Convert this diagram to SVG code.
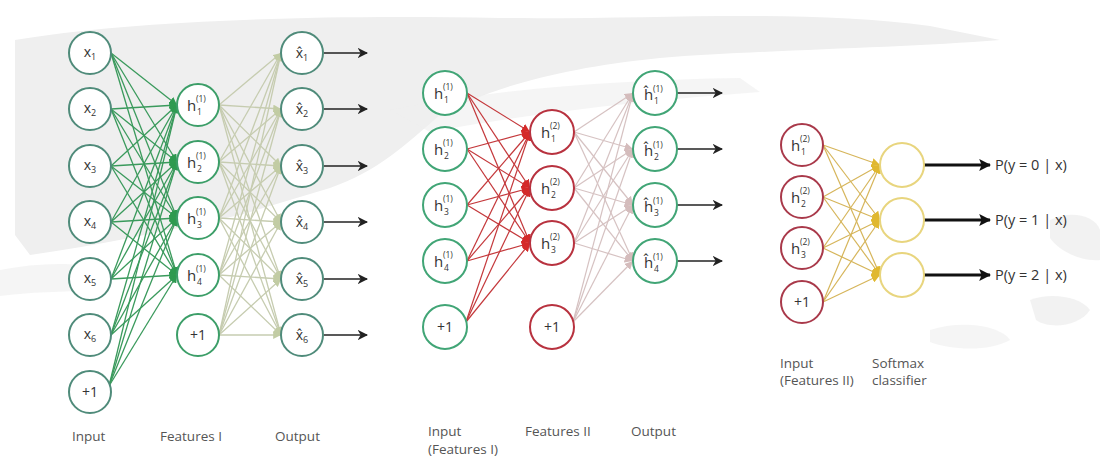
<svg xmlns="http://www.w3.org/2000/svg" width="1103" height="472" viewBox="0 0 1103 472">
<defs>
<style>
.bg{fill:#efefef;stroke:none}
.n{fill:#fff;stroke-width:2}
.gi{stroke:#4f8b7a}
.gh{stroke:#3c9e68}
.gm{stroke:#41a576}
.rh{stroke:#b8323f}
.ri{stroke:#a9394a}
.ys{stroke:#e8d57e}
.nl{font-family:"Open Sans","DejaVu Sans",sans-serif;font-size:14px;fill:#333;text-anchor:middle}
.ns{font-family:"Open Sans","Noto Sans",sans-serif;font-size:15px;fill:#333}
.sm{font-family:"Open Sans","Noto Sans",sans-serif;font-size:8.5px;fill:#333}
.cap{font-family:"Open Sans","Noto Sans",sans-serif;font-size:13.5px;fill:#555}
.pt{font-family:"Open Sans","Noto Sans",sans-serif;font-size:14.5px;fill:#333}
.c1 line{stroke:#3a9a5c;stroke-width:1.3;marker-end:url(#mg)}
.c2 line{stroke:#c6ccb0;stroke-width:1.3;marker-end:url(#mlg)}
.c3 line{stroke:#c4383b;stroke-width:1.2;marker-end:url(#mr)}
.c4 line{stroke:#d6c2c2;stroke-width:1.2;marker-end:url(#mp)}
.c5 line{stroke:#d6b55a;stroke-width:1.2;marker-end:url(#my)}
.oa line{stroke:#222;stroke-width:1.5;marker-end:url(#mk)}
.ob line{stroke:#111;stroke-width:3;marker-end:url(#mkb)}
</style>
<marker id="mg" viewBox="0 0 10 10" refX="10" refY="5" markerWidth="6" markerHeight="6" orient="auto"><path d="M0,0 L10,5 L0,10 z" fill="#2e9a50"/></marker>
<marker id="mlg" viewBox="0 0 10 10" refX="10" refY="5" markerWidth="6" markerHeight="6" orient="auto"><path d="M0,0 L10,5 L0,10 z" fill="#c2cca4"/></marker>
<marker id="mr" viewBox="0 0 10 10" refX="10" refY="5" markerWidth="7" markerHeight="7" orient="auto"><path d="M0,0 L10,5 L0,10 z" fill="#d42a2a"/></marker>
<marker id="mp" viewBox="0 0 10 10" refX="10" refY="5" markerWidth="7" markerHeight="7" orient="auto"><path d="M0,0 L10,5 L0,10 z" fill="#d4bcbc"/></marker>
<marker id="my" viewBox="0 0 10 10" refX="10" refY="5" markerWidth="7" markerHeight="7" orient="auto"><path d="M0,0 L10,5 L0,10 z" fill="#e0b830"/></marker>
<marker id="mk" viewBox="0 0 10 10" refX="9" refY="5" markerWidth="7" markerHeight="7" orient="auto"><path d="M0,0 L10,5 L0,10 L3,5 z" fill="#222"/></marker>
<marker id="mkb" viewBox="0 0 10 10" refX="9" refY="5" markerWidth="4" markerHeight="4" orient="auto"><path d="M0,0 L10,5 L0,10 L2,5 z" fill="#111"/></marker>
</defs>
<rect width="1103" height="472" fill="#fff"/>
<g id="background">
<path class="bg" d="M15,40 C120,22 300,14 500,18 C650,20 800,8 930,26 L1000,40 C900,48 760,50 660,58 C560,68 490,88 440,115 C405,145 380,170 330,188 L240,215 C170,230 100,245 30,255 L15,235 Z"/>
<path class="bg" d="M390,110 C500,88 620,80 740,78 L760,92 C650,100 540,112 430,132 Z" opacity="0.6"/>
<path class="bg" d="M0,270 C40,262 80,262 110,270 L100,290 C60,292 30,292 0,296 Z" opacity="0.6"/>
<path class="bg" d="M1050,220 C1070,210 1095,215 1100,230 L1100,260 C1080,262 1058,250 1050,238 Z" opacity="0.8"/>
<path class="bg" d="M1030,300 C1050,292 1080,296 1090,310 C1080,326 1050,330 1036,320 Z" opacity="0.8"/>
<path class="bg" d="M930,330 C960,320 1000,325 1010,340 C990,352 950,350 930,342 Z" opacity="0.6"/>
</g>
<g id="connectors">
<g class="c1">
<line x1="111" y1="53" x2="177" y2="105"/><line x1="111" y1="53" x2="177" y2="162"/><line x1="111" y1="53" x2="177" y2="218"/><line x1="111" y1="53" x2="177" y2="275"/>
<line x1="111" y1="109" x2="177" y2="105"/><line x1="111" y1="109" x2="177" y2="162"/><line x1="111" y1="109" x2="177" y2="218"/><line x1="111" y1="109" x2="177" y2="275"/>
<line x1="111" y1="166" x2="177" y2="105"/><line x1="111" y1="166" x2="177" y2="162"/><line x1="111" y1="166" x2="177" y2="218"/><line x1="111" y1="166" x2="177" y2="275"/>
<line x1="111" y1="222" x2="177" y2="105"/><line x1="111" y1="222" x2="177" y2="162"/><line x1="111" y1="222" x2="177" y2="218"/><line x1="111" y1="222" x2="177" y2="275"/>
<line x1="111" y1="279" x2="177" y2="105"/><line x1="111" y1="279" x2="177" y2="162"/><line x1="111" y1="279" x2="177" y2="218"/><line x1="111" y1="279" x2="177" y2="275"/>
<line x1="111" y1="335" x2="177" y2="105"/><line x1="111" y1="335" x2="177" y2="162"/><line x1="111" y1="335" x2="177" y2="218"/><line x1="111" y1="335" x2="177" y2="275"/>
<line x1="109" y1="386" x2="177" y2="105"/><line x1="109" y1="386" x2="177" y2="162"/><line x1="109" y1="386" x2="177" y2="218"/><line x1="109" y1="386" x2="177" y2="275"/>
</g>
<g class="c2">
<line x1="219" y1="105" x2="281" y2="53"/><line x1="219" y1="105" x2="281" y2="109"/><line x1="219" y1="105" x2="281" y2="166"/><line x1="219" y1="105" x2="281" y2="222"/><line x1="219" y1="105" x2="281" y2="279"/><line x1="219" y1="105" x2="281" y2="335"/>
<line x1="219" y1="162" x2="281" y2="53"/><line x1="219" y1="162" x2="281" y2="109"/><line x1="219" y1="162" x2="281" y2="166"/><line x1="219" y1="162" x2="281" y2="222"/><line x1="219" y1="162" x2="281" y2="279"/><line x1="219" y1="162" x2="281" y2="335"/>
<line x1="219" y1="218" x2="281" y2="53"/><line x1="219" y1="218" x2="281" y2="109"/><line x1="219" y1="218" x2="281" y2="166"/><line x1="219" y1="218" x2="281" y2="222"/><line x1="219" y1="218" x2="281" y2="279"/><line x1="219" y1="218" x2="281" y2="335"/>
<line x1="219" y1="275" x2="281" y2="53"/><line x1="219" y1="275" x2="281" y2="109"/><line x1="219" y1="275" x2="281" y2="166"/><line x1="219" y1="275" x2="281" y2="222"/><line x1="219" y1="275" x2="281" y2="279"/><line x1="219" y1="275" x2="281" y2="335"/>
<line x1="219" y1="335" x2="281" y2="53"/><line x1="219" y1="335" x2="281" y2="109"/><line x1="219" y1="335" x2="281" y2="166"/><line x1="219" y1="335" x2="281" y2="222"/><line x1="219" y1="335" x2="281" y2="279"/><line x1="219" y1="335" x2="281" y2="335"/>
</g>
<g class="c3">
<line x1="467" y1="93" x2="530" y2="132"/><line x1="467" y1="93" x2="530" y2="188"/><line x1="467" y1="93" x2="530" y2="243"/>
<line x1="467" y1="149" x2="530" y2="132"/><line x1="467" y1="149" x2="530" y2="188"/><line x1="467" y1="149" x2="530" y2="243"/>
<line x1="467" y1="205" x2="530" y2="132"/><line x1="467" y1="205" x2="530" y2="188"/><line x1="467" y1="205" x2="530" y2="243"/>
<line x1="467" y1="261" x2="530" y2="132"/><line x1="467" y1="261" x2="530" y2="188"/><line x1="467" y1="261" x2="530" y2="243"/>
<line x1="466" y1="322" x2="530" y2="132"/><line x1="466" y1="322" x2="530" y2="188"/><line x1="466" y1="322" x2="530" y2="243"/>
</g>
<g class="c4">
<line x1="574" y1="132" x2="633" y2="93"/><line x1="574" y1="132" x2="633" y2="149"/><line x1="574" y1="132" x2="633" y2="205"/><line x1="574" y1="132" x2="633" y2="261"/>
<line x1="574" y1="188" x2="633" y2="93"/><line x1="574" y1="188" x2="633" y2="149"/><line x1="574" y1="188" x2="633" y2="205"/><line x1="574" y1="188" x2="633" y2="261"/>
<line x1="574" y1="243" x2="633" y2="93"/><line x1="574" y1="243" x2="633" y2="149"/><line x1="574" y1="243" x2="633" y2="205"/><line x1="574" y1="243" x2="633" y2="261"/>
<line x1="573" y1="322" x2="633" y2="93"/><line x1="573" y1="322" x2="633" y2="149"/><line x1="573" y1="322" x2="633" y2="205"/><line x1="573" y1="322" x2="633" y2="261"/>
</g>
<g class="c5">
<line x1="823" y1="145" x2="880" y2="165"/><line x1="823" y1="145" x2="880" y2="220"/><line x1="823" y1="145" x2="880" y2="275"/>
<line x1="823" y1="197" x2="880" y2="165"/><line x1="823" y1="197" x2="880" y2="220"/><line x1="823" y1="197" x2="880" y2="275"/>
<line x1="823" y1="248" x2="880" y2="165"/><line x1="823" y1="248" x2="880" y2="220"/><line x1="823" y1="248" x2="880" y2="275"/>
<line x1="823" y1="302" x2="880" y2="165"/><line x1="823" y1="302" x2="880" y2="220"/><line x1="823" y1="302" x2="880" y2="275"/>
</g>
<g class="oa">
<line x1="324" y1="53" x2="367" y2="53"/><line x1="324" y1="109" x2="367" y2="109"/><line x1="324" y1="166" x2="367" y2="166"/><line x1="324" y1="222" x2="367" y2="222"/><line x1="324" y1="279" x2="367" y2="279"/><line x1="324" y1="335" x2="367" y2="335"/>
<line x1="677" y1="93" x2="722" y2="93"/><line x1="677" y1="149" x2="722" y2="149"/><line x1="677" y1="205" x2="722" y2="205"/><line x1="677" y1="261" x2="722" y2="261"/>
</g>
<g class="ob">
<line x1="924" y1="165" x2="990" y2="165"/><line x1="924" y1="220" x2="990" y2="220"/><line x1="924" y1="275" x2="990" y2="275"/>
</g>
</g>
<g id="in-x1"><circle class="n gi" cx="90" cy="53" r="21"/><text class="nl" x="90" y="57">x<tspan font-size="9" dy="3">1</tspan></text></g>
<g id="in-x2"><circle class="n gi" cx="90" cy="109" r="21"/><text class="nl" x="90" y="113">x<tspan font-size="9" dy="3">2</tspan></text></g>
<g id="in-x3"><circle class="n gi" cx="90" cy="166" r="21"/><text class="nl" x="90" y="170">x<tspan font-size="9" dy="3">3</tspan></text></g>
<g id="in-x4"><circle class="n gi" cx="90" cy="222" r="21"/><text class="nl" x="90" y="226">x<tspan font-size="9" dy="3">4</tspan></text></g>
<g id="in-x5"><circle class="n gi" cx="90" cy="279" r="21"/><text class="nl" x="90" y="283">x<tspan font-size="9" dy="3">5</tspan></text></g>
<g id="in-x6"><circle class="n gi" cx="90" cy="335" r="21"/><text class="nl" x="90" y="339">x<tspan font-size="9" dy="3">6</tspan></text></g>
<g id="in-b"><circle class="n gi" cx="90" cy="392" r="21"/><text class="nl" x="90" y="397" font-size="15">+1</text></g>
<g id="f1-h1"><circle class="n gh" cx="198" cy="105" r="21"/><text class="ns" x="187" y="111">h</text><text class="sm" x="196" y="102">(1)</text><text class="sm" x="197" y="115">1</text></g>
<g id="f1-h2"><circle class="n gh" cx="198" cy="162" r="21"/><text class="ns" x="187" y="168">h</text><text class="sm" x="196" y="159">(1)</text><text class="sm" x="197" y="172">2</text></g>
<g id="f1-h3"><circle class="n gh" cx="198" cy="218" r="21"/><text class="ns" x="187" y="224">h</text><text class="sm" x="196" y="215">(1)</text><text class="sm" x="197" y="228">3</text></g>
<g id="f1-h4"><circle class="n gh" cx="198" cy="275" r="21"/><text class="ns" x="187" y="281">h</text><text class="sm" x="196" y="272">(1)</text><text class="sm" x="197" y="285">4</text></g>
<g id="f1-b"><circle class="n gh" cx="198" cy="335" r="21"/><text class="nl" x="198" y="340" font-size="15">+1</text></g>
<g id="out-x1"><circle class="n gi" cx="302" cy="53" r="21"/><text class="nl" x="302" y="58">x̂<tspan font-size="9" dy="3">1</tspan></text></g>
<g id="out-x2"><circle class="n gi" cx="302" cy="109" r="21"/><text class="nl" x="302" y="114">x̂<tspan font-size="9" dy="3">2</tspan></text></g>
<g id="out-x3"><circle class="n gi" cx="302" cy="166" r="21"/><text class="nl" x="302" y="171">x̂<tspan font-size="9" dy="3">3</tspan></text></g>
<g id="out-x4"><circle class="n gi" cx="302" cy="222" r="21"/><text class="nl" x="302" y="227">x̂<tspan font-size="9" dy="3">4</tspan></text></g>
<g id="out-x5"><circle class="n gi" cx="302" cy="279" r="21"/><text class="nl" x="302" y="284">x̂<tspan font-size="9" dy="3">5</tspan></text></g>
<g id="out-x6"><circle class="n gi" cx="302" cy="335" r="21"/><text class="nl" x="302" y="340">x̂<tspan font-size="9" dy="3">6</tspan></text></g>
<g id="m-in-h1"><circle class="n gm" cx="445" cy="93" r="22"/><text class="ns" x="434" y="99">h</text><text class="sm" x="443" y="90">(1)</text><text class="sm" x="444" y="103">1</text></g>
<g id="m-in-h2"><circle class="n gm" cx="445" cy="149" r="22"/><text class="ns" x="434" y="155">h</text><text class="sm" x="443" y="146">(1)</text><text class="sm" x="444" y="159">2</text></g>
<g id="m-in-h3"><circle class="n gm" cx="445" cy="205" r="22"/><text class="ns" x="434" y="211">h</text><text class="sm" x="443" y="202">(1)</text><text class="sm" x="444" y="215">3</text></g>
<g id="m-in-h4"><circle class="n gm" cx="445" cy="261" r="22"/><text class="ns" x="434" y="267">h</text><text class="sm" x="443" y="258">(1)</text><text class="sm" x="444" y="271">4</text></g>
<g id="m-in-b"><circle class="n gm" cx="445" cy="327" r="22"/><text class="nl" x="445" y="332" font-size="15">+1</text></g>
<g id="f2-h1"><circle class="n rh" cx="552" cy="132" r="22"/><text class="ns" x="541" y="138">h</text><text class="sm" x="550" y="129">(2)</text><text class="sm" x="551" y="142">1</text></g>
<g id="f2-h2"><circle class="n rh" cx="552" cy="188" r="22"/><text class="ns" x="541" y="194">h</text><text class="sm" x="550" y="185">(2)</text><text class="sm" x="551" y="198">2</text></g>
<g id="f2-h3"><circle class="n rh" cx="552" cy="243" r="22"/><text class="ns" x="541" y="249">h</text><text class="sm" x="550" y="240">(2)</text><text class="sm" x="551" y="253">3</text></g>
<g id="f2-b"><circle class="n rh" cx="552" cy="327" r="22"/><text class="nl" x="552" y="332" font-size="15">+1</text></g>
<g id="m-out-h1"><circle class="n gm" cx="655" cy="93" r="22"/><text class="ns" x="644" y="100">ĥ</text><text class="sm" x="653" y="92">(1)</text><text class="sm" x="654" y="104">1</text></g>
<g id="m-out-h2"><circle class="n gm" cx="655" cy="149" r="22"/><text class="ns" x="644" y="156">ĥ</text><text class="sm" x="653" y="148">(1)</text><text class="sm" x="654" y="160">2</text></g>
<g id="m-out-h3"><circle class="n gm" cx="655" cy="205" r="22"/><text class="ns" x="644" y="212">ĥ</text><text class="sm" x="653" y="204">(1)</text><text class="sm" x="654" y="216">3</text></g>
<g id="m-out-h4"><circle class="n gm" cx="655" cy="261" r="22"/><text class="ns" x="644" y="268">ĥ</text><text class="sm" x="653" y="260">(1)</text><text class="sm" x="654" y="272">4</text></g>
<g id="r-in-h1"><circle class="n ri" cx="802" cy="145" r="21"/><text class="ns" x="791" y="151">h</text><text class="sm" x="800" y="142">(2)</text><text class="sm" x="801" y="155">1</text></g>
<g id="r-in-h2"><circle class="n ri" cx="802" cy="197" r="21"/><text class="ns" x="791" y="203">h</text><text class="sm" x="800" y="194">(2)</text><text class="sm" x="801" y="207">2</text></g>
<g id="r-in-h3"><circle class="n ri" cx="802" cy="248" r="21"/><text class="ns" x="791" y="254">h</text><text class="sm" x="800" y="245">(2)</text><text class="sm" x="801" y="258">3</text></g>
<g id="r-in-b"><circle class="n ri" cx="802" cy="302" r="21"/><text class="nl" x="802" y="307" font-size="15">+1</text></g>
<g id="sm-1"><circle class="n ys" cx="902" cy="165" r="22"/></g>
<g id="sm-2"><circle class="n ys" cx="902" cy="220" r="22"/></g>
<g id="sm-3"><circle class="n ys" cx="902" cy="275" r="22"/></g>
<g id="outputs">
<text class="pt" x="995" y="170">P(y = 0 | x)</text>
<text class="pt" x="995" y="225">P(y = 1 | x)</text>
<text class="pt" x="995" y="280">P(y = 2 | x)</text>
</g>
<g id="captions">
<text class="cap" x="72" y="441">Input</text>
<text class="cap" x="160" y="441">Features I</text>
<text class="cap" x="275" y="441">Output</text>
<text class="cap" x="428" y="436">Input</text>
<text class="cap" x="428" y="454">(Features I)</text>
<text class="cap" x="525" y="436">Features II</text>
<text class="cap" x="631" y="436">Output</text>
<text class="cap" x="780" y="368">Input</text>
<text class="cap" x="780" y="385">(Features II)</text>
<text class="cap" x="872" y="368">Softmax</text>
<text class="cap" x="872" y="385">classifier</text>
</g>
</svg>
